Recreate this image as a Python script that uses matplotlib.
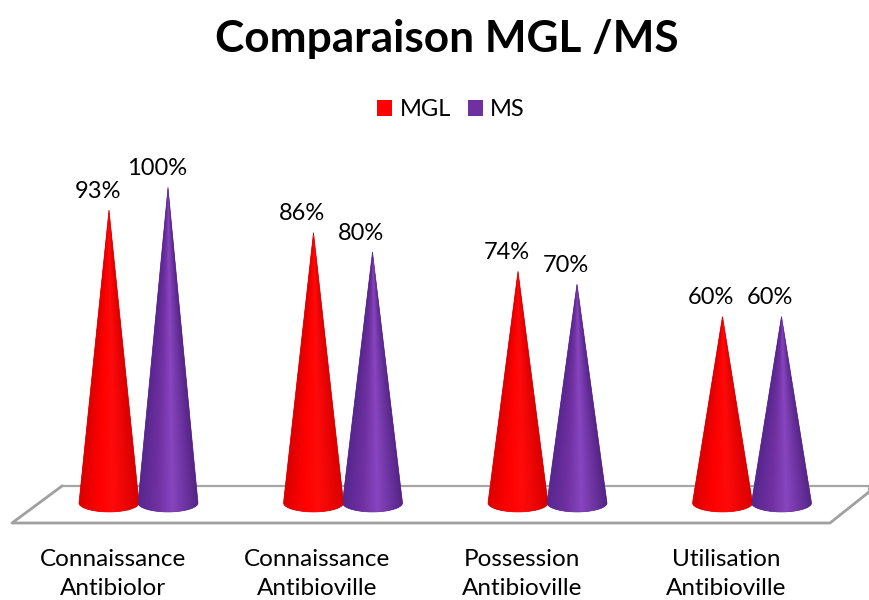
import matplotlib
matplotlib.use("Agg")
import matplotlib.pyplot as plt
import numpy as np
from matplotlib.patches import Patch, PathPatch
from matplotlib.path import Path
from matplotlib.lines import Line2D

plt.rcParams['font.family'] = ['Lato', 'DejaVu Sans']

categories = ["Connaissance\nAntibiolor", "Connaissance\nAntibioville",
              "Possession\nAntibioville", "Utilisation\nAntibioville"]
mgl = [93, 86, 74, 60]
ms = [100, 80, 70, 60]
W, H = 869, 600

# colours across the cone, left edge -> middle -> right edge
red_shade = [(0.86, 0, 0), (1, 0, 0), (1, 0.04, 0.04), (0.85, 0, 0)]
purple_shade = [(0.34, 0.15, 0.56), (0.44, 0.19, 0.63), (0.53, 0.27, 0.75), (0.33, 0.14, 0.52)]


def cone(ax, xc, value, shade):
    half_w = 30 / 204.5
    half_h = 2.8
    base = 2.2
    # outline: tip then round the front of the base
    t = np.linspace(np.pi, 2 * np.pi, 40)
    xs = xc + half_w * np.cos(t)
    ys = base + half_h * np.sin(t)
    verts = [(xc, value)] + list(zip(xs, ys)) + [(xc, value)]
    codes = [Path.MOVETO] + [Path.LINETO] * (len(verts) - 2) + [Path.CLOSEPOLY]
    outline = PathPatch(Path(verts, codes), fc=shade[1], ec=shade[0], lw=0.5, zorder=3)
    ax.add_patch(outline)
    # shading follows the narrowing of the cone
    gx = np.linspace(xc - half_w, xc + half_w, 240)
    gy = np.linspace(base - half_h, value, 500)
    xx, yy = np.meshgrid(gx, gy)
    width = half_w * np.clip((value - yy) / (value - base), 0.001, 1)
    u = np.clip((xx - xc) / width, -1, 1)
    stops = [-1, -0.35, 0.15, 1]
    rgb = np.dstack([np.interp(u, stops, [s[c] for s in shade]) for c in range(3)])
    im = ax.imshow(rgb, origin="lower", aspect="auto", zorder=3.1,
                   extent=(gx[0], gx[-1], gy[0], gy[-1]))
    im.set_clip_path(outline)


fig = plt.figure(figsize=(W / 100, H / 100), dpi=100)
ax = fig.add_axes([0, 70 / H, 1, 530 / H])

# floor of the 3D chart
floor = [(12, 523), (830, 523), (869, 492), (869, 486), (62, 486)]
fig.add_artist(Line2D([p[0] / W for p in floor[2:]], [1 - p[1] / H for p in floor[2:]],
                      color="#a6a6a6", lw=1.6, zorder=0))
fig.add_artist(Line2D([floor[4][0] / W, floor[0][0] / W, floor[1][0] / W, floor[2][0] / W],
                      [1 - floor[4][1] / H, 1 - floor[0][1] / H, 1 - floor[1][1] / H, 1 - floor[2][1] / H],
                      color="#a0a0a0", lw=2, zorder=0))
ax.patch.set_alpha(0)

idx = np.arange(len(categories))
off = 29.5 / 204.5
for i in idx:
    cone(ax, i - off, mgl[i], red_shade)
    cone(ax, i + off, ms[i], purple_shade)
    for xc, v in [(i - off, mgl[i]), (i + off, ms[i])]:
        ax.annotate(f"{v}%", (xc, v), xytext=(-8, 6), textcoords="offset points",
                    ha="center", va="bottom", fontsize=17, color="black")

ax.set_xlim(-138.5 / 204.5, (W - 138.5) / 204.5)
ax.set_ylim(-6.2, 158.1)
ax.set_xticks(idx - 0.125)
ax.set_xticklabels(categories, fontsize=17.5, linespacing=1.48)
ax.set_yticks([])
ax.tick_params(axis="x", length=0, pad=13.5)
for s in ax.spines.values():
    s.set_visible(False)

fig.text(447 / W, 1 - 39 / H, "Comparaison MGL /MS", ha="center", va="center",
         fontsize=31.8, fontweight="bold")

handles = [Patch(fc="#ff0000", label="MGL"), Patch(fc="#7030a0", label="MS")]
fig.legend(handles=handles, ncols=2, loc="center", bbox_to_anchor=(451 / W, 1 - 110 / H),
           frameon=False, fontsize=17, handlelength=0.64, handleheight=0.64,
           handletextpad=0.3, columnspacing=0.72)

fig.savefig("out.png", dpi=100)
